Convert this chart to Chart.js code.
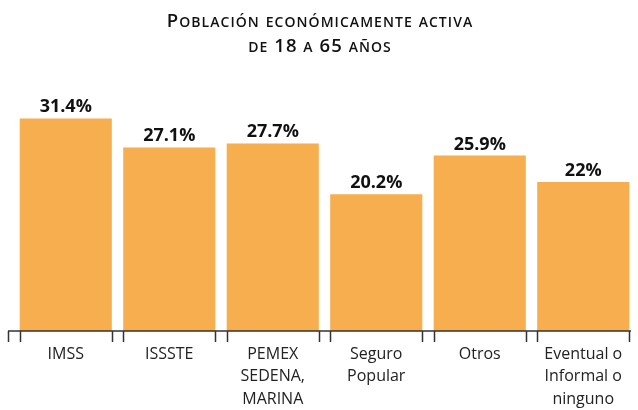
<!DOCTYPE html>
<html>
<head>
<meta charset="utf-8">
<script src="https://cdn.jsdelivr.net/npm/chart.js@4"></script>
<style>
  html, body { margin: 0; padding: 0; background: #fff; }
  #wrap { width: 638px; height: 410px; }
</style>
</head>
<body>
<div id="wrap"><canvas id="chart"></canvas></div>
<script>
// Chart data
const categories = [
    ['IMSS'],
    ['ISSSTE'],
    ['PEMEX', 'SEDENA,', 'MARINA'],
    ['Seguro', 'Popular'],
    ['Otros'],
    ['Eventual o', 'Informal o', 'ninguno']
];
const values = [31.4, 27.1, 27.7, 20.2, 25.9, 22];
const valueLabels = ['31.4%', '27.1%', '27.7%', '20.2%', '25.9%', '22%'];
const titleLines = ['Población económicamente activa', 'de 18 a 65 años'];

const barColor = '#F6AE4E';
const inkColor = '#222';

// Small caps done by hand: lowercase letters drawn as smaller capitals
function smallCapsRuns(text) {
    const runs = [];
    for (const ch of text) {
        const small = ch !== ch.toUpperCase();
        const last = runs[runs.length - 1];
        if (last && last.small === small) last.text += ch;
        else runs.push({ text: ch, small });
    }
    return runs;
}

function drawSmallCaps(ctx, text, cx, y, big, small, family) {
    const runs = smallCapsRuns(text);
    let total = 0;
    runs.forEach(r => {
        ctx.font = `600 ${r.small ? small : big}px ${family}`;
        r.shown = r.small ? r.text.toUpperCase() : r.text;
        r.w = ctx.measureText(r.shown).width;
        total += r.w;
    });
    let x = cx - total / 2;
    runs.forEach(r => {
        ctx.font = `600 ${r.small ? small : big}px ${family}`;
        ctx.fillText(r.shown, x, y);
        x += r.w;
    });
}

const capsTitle = {
    id: 'capsTitle',
    afterDraw(chart) {
        const ctx = chart.ctx;
        ctx.save();
        ctx.fillStyle = '#111';
        ctx.textAlign = 'left';
        ctx.textBaseline = 'alphabetic';
        ctx.letterSpacing = '1.05px';
        drawSmallCaps(ctx, titleLines[0], 320, 27, 18.5, 14, '"Open Sans"');
        drawSmallCaps(ctx, titleLines[1], 320, 52, 18.5, 14, '"Open Sans"');
        ctx.restore();
    }
};

// Value labels above bars + axis line with ticks at each bar edge
const barDecor = {
    id: 'barDecor',
    afterDatasetsDraw(chart) {
        const ctx = chart.ctx;
        const meta = chart.getDatasetMeta(0);
        const base = chart.scales.y.getPixelForValue(0);

        ctx.save();
        ctx.fillStyle = '#111';
        ctx.font = 'bold 18px "Open Sans"';
        ctx.textAlign = 'center';
        ctx.textBaseline = 'alphabetic';
        meta.data.forEach((bar, i) => {
            ctx.fillText(valueLabels[i], bar.x, bar.y - 6);
        });

        ctx.strokeStyle = '#333';
        ctx.lineWidth = 1.5;
        ctx.beginPath();
        ctx.moveTo(8, base);
        ctx.lineTo(chart.chartArea.right - 4, base);
        const edges = [8];
        meta.data.forEach(bar => {
            edges.push(bar.x - bar.width / 2, bar.x + bar.width / 2);
        });
        edges.forEach(x => {
            const px = Math.round(x) + 0.5;
            ctx.moveTo(px, base);
            ctx.lineTo(px, base + 11);
        });
        ctx.stroke();
        ctx.restore();
    }
};

const ctx = document.getElementById('chart').getContext('2d');
new Chart(ctx, {
    type: 'bar',
    data: {
        labels: categories,
        datasets: [{
            data: values,
            backgroundColor: barColor,
            borderWidth: 0,
            barPercentage: 0.89,
            categoryPercentage: 1
        }]
    },
    options: {
        responsive: true,
        maintainAspectRatio: false,
        animation: false,
        layout: { padding: { left: 14, right: 3, top: 94, bottom: 0 } },
        plugins: {
            legend: { display: false },
            tooltip: { enabled: false },
            title: { display: false }
        },
        scales: {
            x: {
                grid: { display: false, drawTicks: false },
                border: { display: false },
                ticks: {
                    color: inkColor,
                    padding: 12,
                    maxRotation: 0,
                    autoSkip: false,
                    font: { family: '"Open Sans"', size: 16, lineHeight: 1.4 }
                },
                afterFit(scale) { scale.height = 79; }
            },
            y: {
                display: false,
                min: 0,
                max: 35
            }
        }
    },
    plugins: [barDecor, capsTitle]
});
</script>
</body>
</html>
